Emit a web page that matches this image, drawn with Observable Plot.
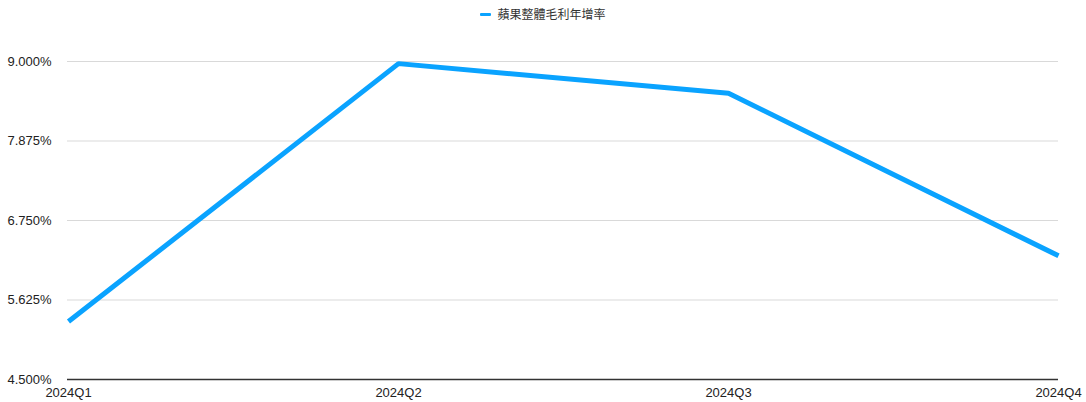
<!DOCTYPE html>
<html>
<head>
<meta charset="utf-8">
<script src="https://cdn.jsdelivr.net/npm/d3@7"></script>
<script src="https://cdn.jsdelivr.net/npm/@observablehq/plot@0.6"></script>
<style>
  html, body { margin: 0; padding: 0; background: #fff; }
  body { width: 1086px; height: 402px; overflow: hidden; font-family: "Liberation Sans", Arial, "Noto Sans CJK TC", sans-serif; }
  #legend { height: 28px; display: flex; justify-content: center; align-items: center; font-size: 12px; color: #333; font-family: "Liberation Sans", "Noto Sans CJK TC", sans-serif; }
  #legend .sw { display: inline-block; width: 11px; height: 3px; background: #0aa3ff; margin-right: 6px; border-radius: 1px; }
  #legend span.t { position: relative; top: -1px; }
</style>
</head>
<body>
<div id="legend"><span class="sw"></span><span class="t">蘋果整體毛利年增率</span></div>
<div id="chart"></div>
<script>
const quarters = ["2024Q1", "2024Q2", "2024Q3", "2024Q4"];
const growth = [5.32, 8.97, 8.55, 6.25];
const yTicks = [4.5, 5.625, 6.75, 7.875, 9];
const seriesName = "蘋果整體毛利年增率";

const data = quarters.map((q, i) => ({q, v: growth[i]}));

const chart = Plot.plot({
  width: 1086,
  height: 374,
  marginTop: 33,
  marginBottom: 23,
  marginLeft: 67,
  marginRight: 28,
  style: {fontFamily: "'Liberation Sans', Arial, sans-serif", fontSize: "13px", color: "#222", background: "#fff"},
  x: {type: "point", domain: quarters, padding: 0, label: null},
  y: {domain: [4.5, 9], label: null},
  marks: [
    Plot.gridY(yTicks.slice(1), {stroke: "#d9d9d9", strokeOpacity: 1, strokeWidth: 1}),
    Plot.ruleY([yTicks[0]], {stroke: "#333", strokeWidth: 1.5}),
    Plot.lineY(data, {x: "q", y: "v", stroke: "#0aa3ff", strokeWidth: 5, strokeLinejoin: "miter", strokeLinecap: "butt"}),
    Plot.axisY(yTicks, {tickSize: 0, tickPadding: 16, tickFormat: d => d.toFixed(3) + "%", label: null, fill: "#222", fontSize: 13}),
    Plot.axisX(quarters, {tickSize: 0, tickPadding: 8, label: null, fill: "#222", fontSize: 13})
  ]
});
document.getElementById("chart").appendChild(chart);
</script>
</body>
</html>
